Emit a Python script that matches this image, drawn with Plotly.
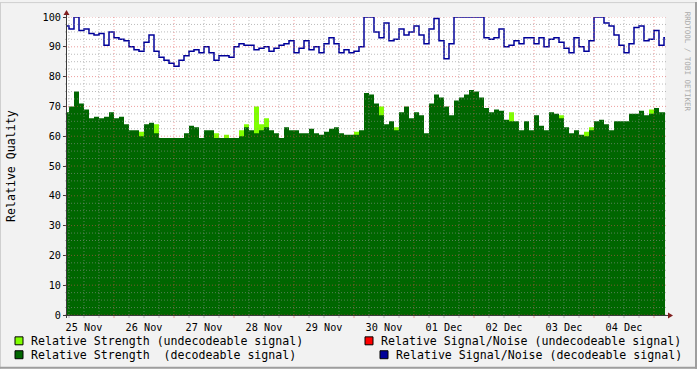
import plotly.graph_objects as go
import pandas as pd

# ---------------- data (2-hour steps starting 25 Nov 04:00) ----------------
start_time = "2023-11-25 04:00"
step = "2h"

sn_decodeable = [
    97, 96, 100, 95.5, 96, 94.5, 94, 94.5, 90.5, 95,
    93, 92.5, 92, 90, 89, 88.5, 91.5, 94, 88.5, 86.5,
    85.5, 84.5, 83.5, 85.5, 87, 88.5, 89, 88, 90, 88,
    85.5, 87, 87, 86.5, 90, 91, 90.5, 90.5, 89, 89.5,
    90, 88.5, 89.5, 90.5, 91, 92, 88, 89.5, 92, 89,
    90, 88, 91, 93, 91, 88, 89, 88, 88.5, 90,
    100, 100, 95, 93, 98, 92, 92.5, 96, 94, 95,
    97, 94, 91, 96, 99.5, 92, 86, 91, 100, 100,
    100, 100, 100, 100, 93, 92.5, 93, 96, 90, 90.5,
    92, 91, 93, 93, 91, 93, 90, 92.5, 93, 91.5,
    89.5, 88, 93, 90, 88.5, 92, 100, 100, 98, 97,
    94, 90.5, 88, 91, 96.5, 97, 92, 92.5, 95.5, 90.5,
    93,
]

strength_decodeable = [
    68, 70, 75, 71, 69, 66, 66.5, 66, 66.5, 68,
    66, 66.5, 64, 62, 62, 60, 64, 64.5, 61, 59.4,
    59.4, 59.4, 59.4, 59.4, 61, 63.5, 63, 59.4, 62, 62,
    59.4, 59.4, 59.4, 59.4, 59.4, 60, 63, 62, 61, 62,
    63, 62, 61, 59.4, 63, 62, 62, 61, 61, 62.5,
    61, 60.5, 61.5, 62.5, 63, 61, 60.5, 60.5, 60.5, 62,
    74.5, 74, 71, 67, 64, 65, 62, 68, 70, 66,
    68, 67, 61, 71, 74, 73, 70, 67, 72, 73,
    74, 75.5, 75, 73, 69.5, 68, 69, 68.5, 65.5, 65,
    65, 62, 65, 62, 67, 63.5, 62, 68, 67.5, 66,
    63, 61, 62, 60.5, 60, 62, 65, 65.5, 64, 62,
    65, 65, 65, 67.5, 67.5, 68.5, 67, 67.5, 69.5, 68,
    68,
]

strength_undecodeable = [
    0, 0, 0, 0, 0, 0, 0, 0, 0, 0,
    0, 0, 0, 0, 0, 61.5, 0, 0, 64, 0,
    0, 0, 0, 0, 0, 0, 0, 0, 0, 0,
    61, 0, 60.5, 0, 0, 62, 64, 0, 70, 64,
    66, 0, 0, 0, 0, 0, 0, 0, 0, 0,
    0, 0, 0, 0, 0, 0, 0, 0, 61.5, 0,
    0, 0, 0, 70, 0, 0, 63, 0, 0, 0,
    0, 0, 0, 0, 0, 0, 0, 0, 0, 0,
    0, 0, 0, 0, 0, 0, 0, 0, 0, 68,
    0, 0, 0, 0, 0, 0, 0, 0, 0, 67,
    0, 0, 0, 0, 61.5, 63, 0, 0, 0, 0,
    0, 0, 0, 0, 0, 0, 0, 69, 0, 0,
    0,
]

legend_labels = [
    "Relative Strength (undecodeable signal)",
    "Relative Strength\u00a0 (decodeable signal)",
    "Relative Signal/Noise (undecodeable signal)",
    "Relative Signal/Noise (decodeable signal)",
]
legend_colors = ["#80FF00", "#006600", "#FF0000", "#000099"]

x_range = ["2023-11-25 05:12", "2023-12-05 04:24"]
y_title = "Relative Quality"
watermark = "RRDTOOL / TOBI OETIKER"

# ---------------- geometry ----------------
W, H = 697, 369
ML, MR, MT, MB = 67, 32, 15, 54
PW, PH = W - ML - MR, H - MT - MB
FONT = "DejaVu Sans Mono"


def px_x(x):
    return (x - ML) / PW


def px_y(y):
    return (H - MB - y) / PH


times = pd.date_range(start_time, periods=len(sn_decodeable), freq=step)
t_ext = list(times) + [times[-1] + pd.Timedelta(step)]


def ext(v):
    return list(v) + [v[-1]]


fig = go.Figure()
fig.add_trace(go.Scatter(x=t_ext, y=ext(strength_undecodeable), mode="lines",
                         line=dict(width=0, shape="hv", color="#80FF00"),
                         fill="tozeroy", fillcolor="#80FF00", hoverinfo="skip"))
fig.add_trace(go.Scatter(x=t_ext, y=ext(strength_decodeable), mode="lines",
                         line=dict(width=0, shape="hv", color="#006600"),
                         fill="tozeroy", fillcolor="#006600", hoverinfo="skip"))
fig.add_trace(go.Scatter(x=t_ext, y=ext(sn_decodeable), mode="lines",
                         line=dict(width=1.5, shape="hv", color="#000099"),
                         hoverinfo="skip"))

shapes = []
GRID = "rgba(143,143,143,0.6)"
MGRID = "rgba(222,79,79,0.55)"
DASH = "1px,2px"

# horizontal grid
for i in range(41):
    v = i * 2.5
    major = (i % 4 == 0)
    shapes.append(dict(type="line", xref="paper", yref="y", layer="above",
                       x0=px_x(ML - 2), x1=px_x(ML + PW + 2), y0=v, y1=v,
                       line=dict(color=MGRID if major else GRID, width=1, dash=DASH)))

# vertical grid every 6 h
gt = pd.Timestamp("2023-11-25 06:00")
t_end = pd.Timestamp(x_range[1])
while gt <= t_end:
    major = (gt.hour == 0)
    shapes.append(dict(type="line", xref="x", yref="paper", layer="above",
                       x0=gt, x1=gt, y0=0, y1=1,
                       line=dict(color=MGRID if major else GRID, width=1, dash=DASH)))
    shapes.append(dict(type="line", xref="x", yref="paper", layer="above",
                       x0=gt, x1=gt, y0=px_y(H - MB + 3), y1=0,
                       line=dict(color=MGRID if major else GRID, width=1)))
    gt += pd.Timedelta("6h")

AXIS = "#3a3a3a"
ARROW = "#801f1f"
# axis lines
shapes.append(dict(type="line", xref="paper", yref="paper", layer="above",
                   x0=px_x(66.5), x1=px_x(66.5), y0=px_y(H - MB + 3), y1=px_y(10),
                   line=dict(color=AXIS, width=1)))
shapes.append(dict(type="line", xref="paper", yref="paper", layer="above",
                   x0=px_x(63), x1=px_x(670), y0=px_y(315.5), y1=px_y(315.5),
                   line=dict(color=AXIS, width=1)))
# arrows
shapes.append(dict(type="path", xref="paper", yref="paper", layer="above",
                   path=f"M{px_x(63.5)},{px_y(13)} L{px_x(69.5)},{px_y(13)} L{px_x(66.5)},{px_y(8)} Z",
                   fillcolor=ARROW, line=dict(width=0)))
shapes.append(dict(type="path", xref="paper", yref="paper", layer="above",
                   path=f"M{px_x(668)},{px_y(312.5)} L{px_x(668)},{px_y(318.5)} L{px_x(673)},{px_y(315.5)} Z",
                   fillcolor=ARROW, line=dict(width=0)))

# outer 3D border
shapes.append(dict(type="line", xref="paper", yref="paper", x0=px_x(0), x1=px_x(W), y0=px_y(0.5), y1=px_y(0.5),
                   line=dict(color="#CFCFCF", width=1)))
shapes.append(dict(type="line", xref="paper", yref="paper", x0=px_x(0.5), x1=px_x(0.5), y0=px_y(0), y1=px_y(H),
                   line=dict(color="#CFCFCF", width=1)))
shapes.append(dict(type="line", xref="paper", yref="paper", x0=px_x(0), x1=px_x(W), y0=px_y(H - 1), y1=px_y(H - 1),
                   line=dict(color="#9E9E9E", width=2)))
shapes.append(dict(type="line", xref="paper", yref="paper", x0=px_x(W - 1), x1=px_x(W - 1), y0=px_y(0), y1=px_y(H),
                   line=dict(color="#9E9E9E", width=2)))

# legend boxes + texts
legend_pos = [(15, 341), (15, 355), (365, 341), (380, 355)]
annotations = []
for (lx, ly), lab, col in zip(legend_pos, legend_labels, legend_colors):
    shapes.append(dict(type="rect", xref="paper", yref="paper",
                       x0=px_x(lx), x1=px_x(lx + 8), y0=px_y(ly - 4), y1=px_y(ly + 4),
                       fillcolor=col, line=dict(color="black", width=1)))
    annotations.append(dict(xref="paper", yref="paper", x=px_x(lx + 14), y=px_y(ly),
                            xanchor="left", yanchor="middle", showarrow=False,
                            text=lab, font=dict(family=FONT, size=11.6, color="black")))

annotations.append(dict(xref="paper", yref="paper", x=px_x(11), y=px_y(165),
                        xanchor="center", yanchor="middle", showarrow=False, textangle=-90,
                        text=y_title, font=dict(family=FONT, size=11.6, color="black")))
annotations.append(dict(xref="paper", yref="paper", x=px_x(687), y=px_y(60),
                        xanchor="center", yanchor="middle", showarrow=False, textangle=90,
                        text=watermark, font=dict(family=FONT, size=7.5, color="#aaaaaa")))

fig.update_layout(
    width=W, height=H,
    margin=dict(l=ML, r=MR, t=MT, b=MB, pad=0),
    paper_bgcolor="#F2F2F2", plot_bgcolor="white",
    showlegend=False,
    font=dict(family=FONT, size=10.2, color="black"),
    shapes=shapes, annotations=annotations,
    xaxis=dict(type="date", range=x_range, showgrid=False, zeroline=False, showline=False,
               ticks="", dtick=86400000,
               tick0="2023-11-25", tickformat="%d %b", ticklabelmode="period",
               ticklabelstandoff=5,
               tickfont=dict(family=FONT, size=10.2, color="black"), fixedrange=True),
    yaxis=dict(range=[0, 100], dtick=10, tick0=0, showgrid=False, zeroline=False, showline=False,
               ticks="outside", ticklen=3, tickcolor=AXIS,
               tickfont=dict(family=FONT, size=10.2, color="black"), fixedrange=True),
)

fig.write_html("out.html", config={"displayModeBar": False},
               post_script="document.body.style.margin='0';document.body.style.overflow='hidden';")
